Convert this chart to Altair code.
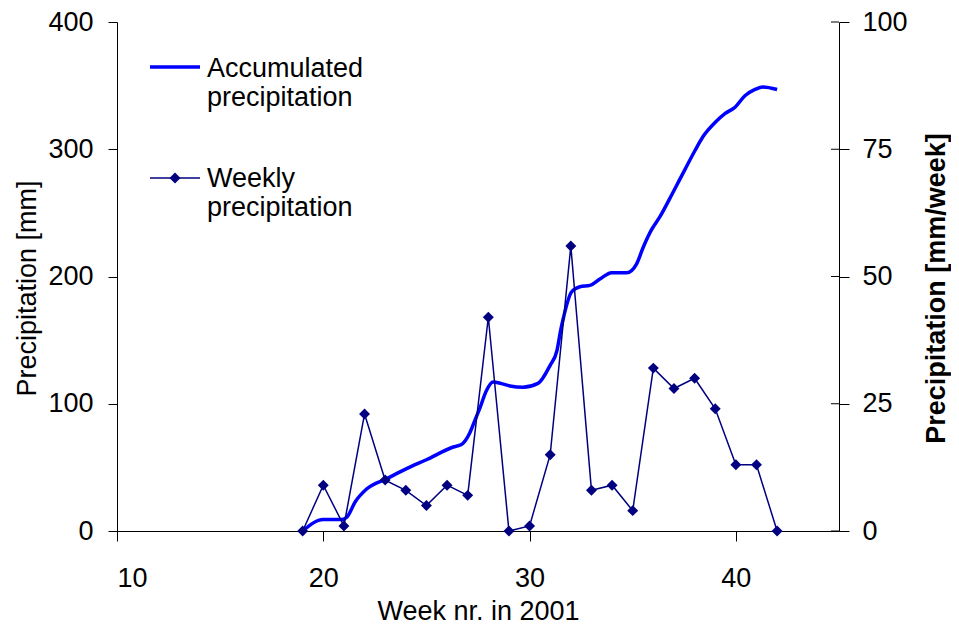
import altair as alt
import pandas as pd

# ---------------- data ----------------
acc_week = [19.0, 20.0, 20.9, 21.15, 21.55, 22.1, 23.07, 24.04, 25.0, 26.3,
            26.7, 27.1, 27.35, 27.6, 27.9, 28.23, 28.6, 29.05, 29.68, 30.41,
            30.99, 31.33, 31.5, 31.62, 32.04, 32.44, 32.93, 33.41, 33.98, 34.71,
            35.19, 35.51, 35.92, 36.32, 36.95, 37.53, 38.02, 38.41, 38.99, 39.47,
            39.96, 40.44, 40.93, 41.31, 42.0]
acc_value = [0, 9, 9, 11, 23, 33, 41, 49, 56, 66,
             68, 77, 87, 97, 110, 117, 116, 114, 113, 116,
             130, 142, 157, 166, 188, 192, 193, 198, 203, 203,
             210, 223, 237, 247, 266, 284, 299, 310, 321, 328,
             333, 342, 347, 349, 347]

weeks = list(range(19, 43))
weekly = [0, 9, 1, 23, 10, 8, 5, 9, 7, 42, 0, 1, 15, 56, 8, 9, 4, 32, 28, 30, 24, 13, 13, 0]

acc_label_lines = ["Accumulated", "precipitation"]
wk_label_lines = ["Weekly", "precipitation"]
left_ticks = [0, 100, 200, 300, 400]
right_ticks = [0, 25, 50, 75, 100]
x_ticks = [10, 20, 30, 40]

x_title = "Week nr. in 2001"
left_title = "Precipitation [mm]"
right_title = "Precipitation [mm/week]"

# ---------------- styling ----------------
W, H = 722, 509
FONT = "Liberation Sans"
FS = 27
BLUE = "#0000FF"
NAVY = "#000080"

acc_df = pd.DataFrame({"week": acc_week, "acc": acc_value})
wk_df = pd.DataFrame({"week": weeks, "mm": weekly})
rt_df = pd.DataFrame({"v": right_ticks})
acc_lab_df = pd.DataFrame({"label": ["\n".join(acc_label_lines)]})
wk_lab_df = pd.DataFrame({"label": ["\n".join(wk_label_lines)]})
one = pd.DataFrame({"k": [0]})

x_enc = alt.X(
    "week:Q",
    scale=alt.Scale(domain=[10, 45], nice=False, zero=False),
    axis=alt.Axis(values=x_ticks, title=x_title, tickSize=10, labelPadding=24,
                  titleBaseline="middle", titleY=80, format="d"),
)

left_axis = alt.Axis(values=left_ticks, title=left_title, orient="left",
                     tickSize=9, labelPadding=15, titleAngle=270,
                     titleX=-90, titleY=266, titleAlign="center",
                     titleBaseline="middle", format="d")
right_axis = alt.Axis(values=right_ticks, title=right_title, orient="right",
                      tickSize=10, labelPadding=13, titleAngle=270,
                      titleX=97, titleY=266, titleAlign="center",
                      titleBaseline="middle", titleFontWeight="bold", format="d")

acc = alt.Chart(acc_df).mark_line(color=BLUE, strokeWidth=3.5, interpolate="monotone").encode(
    x=x_enc,
    y=alt.Y("acc:Q", scale=alt.Scale(domain=[0, 400], nice=False), axis=left_axis),
)

wk = alt.Chart(wk_df).mark_line(
    color=NAVY, strokeWidth=1.5,
    point=alt.OverlayMarkDef(shape="diamond", size=120, filled=True, color=NAVY, opacity=1),
).encode(
    x=x_enc,
    y=alt.Y("mm:Q", scale=alt.Scale(domain=[0, 100], nice=False), axis=right_axis),
)

# inner half of the crossing ticks on the right axis
rt = alt.Chart(rt_df).mark_rule(color="black", strokeWidth=1).encode(
    y=alt.Y("v:Q", scale=alt.Scale(domain=[0, 100], nice=False), axis=None),
    x=alt.value(W - 8), x2=alt.value(W),
)

# legend
leg_l1 = alt.Chart(one).mark_rule(color=BLUE, strokeWidth=3.5).encode(
    x=alt.value(33), x2=alt.value(83), y=alt.value(45))
leg_l2 = alt.Chart(one).mark_rule(color=NAVY, strokeWidth=1.5).encode(
    x=alt.value(33), x2=alt.value(83), y=alt.value(156))
leg_p2 = alt.Chart(one).mark_point(shape="diamond", size=120, filled=True, color=NAVY, opacity=1).encode(
    x=alt.value(58), y=alt.value(156))
leg_t1 = alt.Chart(acc_lab_df).mark_text(
    align="left", baseline="alphabetic", lineBreak="\n", lineHeight=29,
    fontSize=FS, font=FONT, color="black").encode(
    x=alt.value(90), y=alt.value(55), text="label:N")
leg_t2 = alt.Chart(wk_lab_df).mark_text(
    align="left", baseline="alphabetic", lineBreak="\n", lineHeight=29,
    fontSize=FS, font=FONT, color="black").encode(
    x=alt.value(90), y=alt.value(165), text="label:N")

chart = alt.layer(acc, wk, rt, leg_l1, leg_l2, leg_p2, leg_t1, leg_t2).resolve_scale(
    y="independent"
).properties(
    width=W, height=H,
    autosize=alt.AutoSizeParams(type="none"),
    padding={"left": 109, "top": 14, "right": 112, "bottom": 96},
    background="white",
).configure_view(
    stroke="transparent"
).configure_axis(
    labelFont=FONT, titleFont=FONT, labelFontSize=FS, titleFontSize=FS,
    labelColor="black", titleColor="black", tickColor="black", domainColor="black",
    grid=False, titleFontWeight="normal", domainWidth=1, tickWidth=1,
)

chart.save("out.html", embed_options={"renderer": "svg", "actions": False})
